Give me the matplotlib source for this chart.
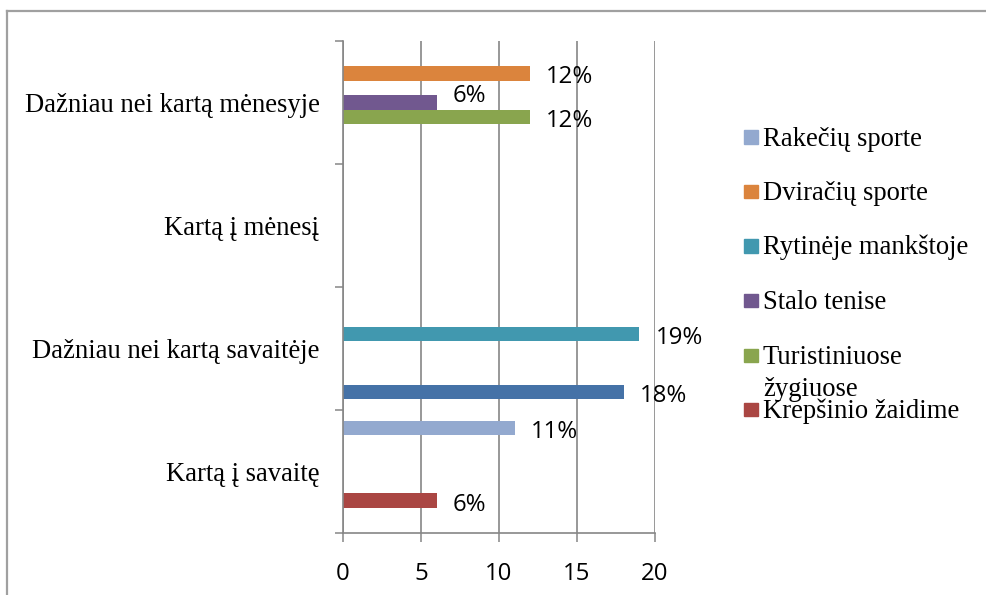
import matplotlib
matplotlib.use('Agg')
import numpy as np
from matplotlib import pyplot as plt
from matplotlib.lines import Line2D
from matplotlib.patches import Rectangle

# categories, bottom to top
categories = ['Kartą į savaitę', 'Dažniau nei kartą savaitėje',
              'Kartą į mėnesį', 'Dažniau nei kartą mėnesyje']

# series in drawing order (first one sits lowest in each group)
series_names = [None, 'Krepšinio žaidime', 'Turistiniuose\nžygiuose',
                'Stalo tenise', 'Rytinėje mankštoje', 'Dviračių sporte',
                'Rakečių sporte']
series_colors = ['#4572A7', '#AA4643', '#89A54E', '#71588F', '#4198AF',
                 '#DB843D', '#93A9CF']
nan = np.nan
values = [
    [nan, 18, nan, nan],
    [6, nan, nan, nan],
    [nan, nan, nan, 12],
    [nan, nan, nan, 6],
    [nan, 19, nan, nan],
    [nan, nan, nan, 12],
    [11, nan, nan, nan],
]
xticks = [0, 5, 10, 15, 20]

W, H = 987, 595
fig = plt.figure(figsize=(W / 100, H / 100), dpi=100)
ax = fig.add_axes([343 / W, 1 - 533 / H, (655 - 343) / W, (533 - 41) / H])

grey = '#868686'
sans = 'Open Sans'
serif = 'Liberation Serif'
fs_sans = 17.3
fs_serif = 19.2

n = len(series_names)
h = 0.118
gap = (1 - n * h) / 2
for k in range(n):
    ys = np.arange(len(categories)) + gap + (k + 0.5) * h
    vals = np.array(values[k], dtype=float)
    ax.barh(ys, np.nan_to_num(vals), height=h, color=series_colors[k],
            zorder=3)
    for y, v in zip(ys, vals):
        if np.isnan(v) or v == 0:
            continue
        # excel nudged the purple label up so it would not collide
        dy = 7 if series_names[k] == 'Stalo tenise' else -4
        ax.annotate(f'{v:.0f}%', (v, y), xytext=(16 * 0.72, dy * 0.72),
                    textcoords='offset points', va='center', ha='left',
                    fontsize=fs_sans, family=sans)

ax.set_xlim(0, 20)
ax.set_ylim(0, len(categories))
ax.set_xticks(xticks)
ax.set_xticklabels([str(t) for t in xticks], fontsize=fs_sans, family=sans)
ax.set_yticks(np.arange(len(categories) + 1))
ax.set_yticklabels([])
ax.set_yticks(np.arange(len(categories)) + 0.5, categories, minor=True)
for t in ax.get_yticklabels(minor=True):
    t.set_family(serif)
    t.set_fontsize(fs_serif)
ax.tick_params(axis='y', which='minor', length=0, pad=17)
ax.tick_params(axis='y', which='major', length=6, width=1.1, color=grey)
ax.tick_params(axis='x', length=6.5, width=1.1, color=grey, pad=14.5)
ax.xaxis.grid(True, color=grey, linewidth=1.2, zorder=0)
ax.set_axisbelow(True)
for s in ['top', 'right']:
    ax.spines[s].set_visible(False)
for s in ['left', 'bottom']:
    ax.spines[s].set_color(grey)
    ax.spines[s].set_linewidth(1.2)
    ax.spines[s].set_zorder(4)

# legend, reversed order like Excel, one row per series
names = [s for s in series_names if s is not None][::-1]
cols = [c for s, c in zip(series_names, series_colors) if s is not None][::-1]
for i, (name, col) in enumerate(zip(names, cols)):
    yc = 137 + 54.5 * i
    fig.add_artist(Rectangle((744 / W, 1 - (yc + 6.5) / H), 14 / W, 13 / H,
                             transform=fig.transFigure, color=col))
    for j, line in enumerate(name.split('\n')):
        fig.text(763 / W, 1 - (yc + 8.5 + 32 * j) / H, line, family=serif,
                 fontsize=fs_serif, va='baseline', ha='left')

# outer chart frame
fig.add_artist(Line2D([7 / W, 7 / W], [0, 1 - 11 / H], color='#A0A0A0',
                      linewidth=1.6, transform=fig.transFigure))
fig.add_artist(Line2D([7 / W, 1], [1 - 11 / H, 1 - 11 / H], color='#A0A0A0',
                      linewidth=1.6, transform=fig.transFigure))

fig.savefig('out.png', dpi=100)
